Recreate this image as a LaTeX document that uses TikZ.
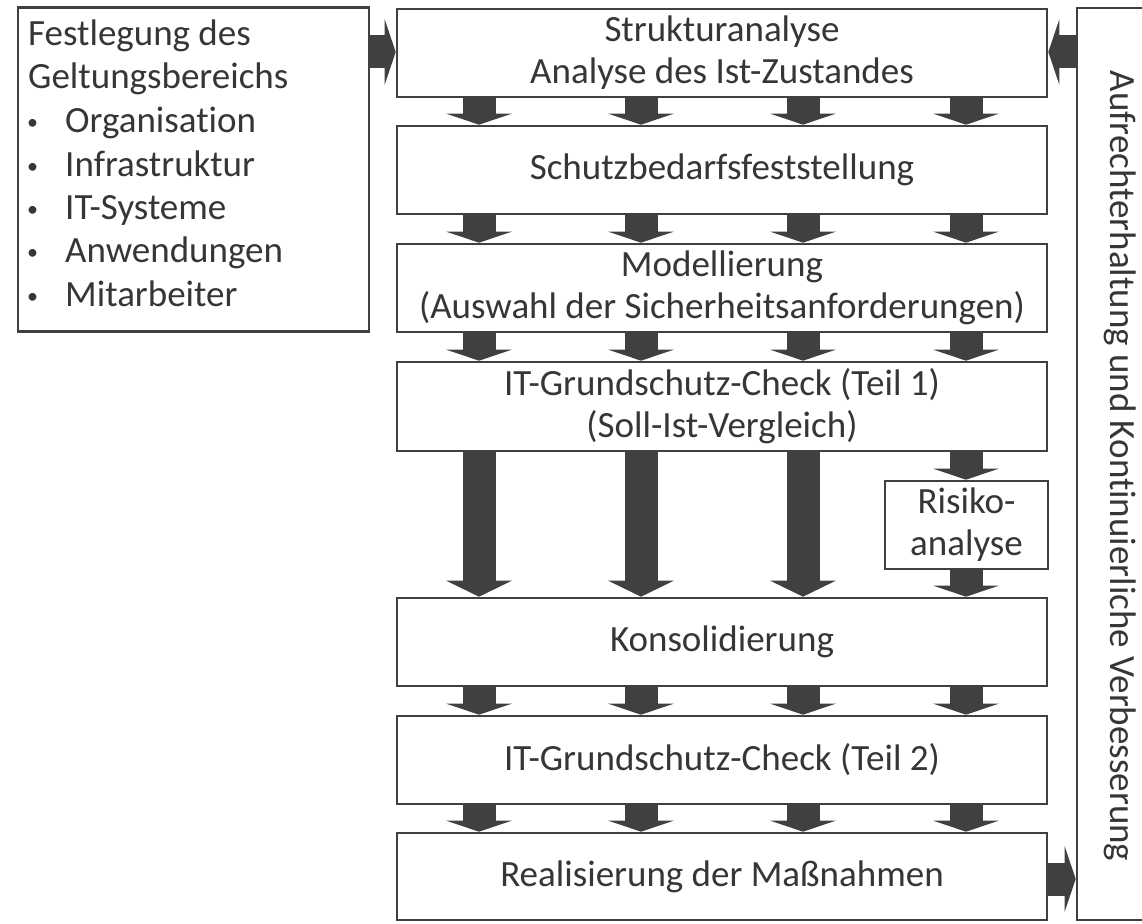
\documentclass[tikz,border=0pt]{standalone}
\usepackage{fontspec}
\setmainfont[Ligatures=NoCommon]{Carlito}
\usetikzlibrary{arrows.meta}
\definecolor{lc}{HTML}{404040}
\definecolor{tc}{HTML}{363636}
\begin{document}
\begin{tikzpicture}[x=1pt,y=-1pt,
  box/.style={draw=lc,line width=2.6pt,fill=white,inner sep=0pt,text=tc,align=center,
    font=\fontsize{37}{42}\selectfont},
  ltxt/.style={anchor=base west,inner sep=0pt,text=tc,font=\fontsize{37}{42}\selectfont},
  bul/.style={anchor=base west,inner sep=0pt,text=tc,font=\fontsize{22}{22}\selectfont},
  fat/.style={draw=lc,line width=33pt,-{Triangle[width=65pt,length=11pt]}},
  fatlong/.style={draw=lc,line width=33pt,-{Triangle[width=65pt,length=16pt]}},
]
\useasboundingbox (0,0) rectangle (1142,923);

% left box
\node[box,minimum width=351pt,minimum height=324pt] (lb) at (193.5,169.5) {};
\node[ltxt] (l1) at (28,46) {Festlegung des};
\node[ltxt] (l2) at (28,89) {Geltungsbereichs};
\foreach \n/\t/\y in {3/Organisation/132,4/Infrastruktur/176,5/IT-Systeme/219,6/Anwendungen/262,7/Mitarbeiter/306}{
  \node[bul] (bul\n) at (27,\y-3) {\textbullet};
  \node[ltxt] (l\n) at (65,\y) {\t};
}

% right box (right edge outside the page)
\node[box,minimum width=100pt,minimum height=912pt] (rb) at (1127,464) {};
\node[anchor=base,rotate=-90,inner sep=0pt,text=tc,font=\fontsize{37}{42}\selectfont] (rt) at (1110,466)
  {Aufrechterhaltung und Kontinuierliche Verbesserung};

% main column
\node[box,minimum width=650pt,minimum height=88pt] (b1) at (722,53) {Strukturanalyse\\Analyse des Ist-Zustandes};
\node[box,minimum width=650pt,minimum height=88pt] (b2) at (722,170) {Schutzbedarfsfeststellung};
\node[box,minimum width=650pt,minimum height=88pt] (b3) at (722,288) {Modellierung\\(Auswahl der Sicherheitsanforderungen)};
\node[box,minimum width=650pt,minimum height=89pt] (b4) at (722,406.5) {IT-Grundschutz-Check (Teil 1)\\(Soll-Ist-Vergleich)};
\node[box,minimum width=163pt,minimum height=88pt] (ra) at (966.5,525) {Risiko-\\analyse};
\node[box,minimum width=650pt,minimum height=88pt] (b5) at (722,642) {Konsolidierung};
\node[box,minimum width=650pt,minimum height=88pt] (b6) at (722,760) {IT-Grundschutz-Check (Teil 2)};
\node[box,minimum width=650pt,minimum height=87pt] (b7) at (722,876.5) {Realisierung der Maßnahmen};

% column positions
\coordinate (c1) at (479,0);
\coordinate (c2) at (641,0);
\coordinate (c3) at (803,0);
\coordinate (c4) at (966,0);

\foreach \a/\b in {b1/b2,b2/b3,b3/b4,b5/b6,b6/b7}{
  \foreach \c in {c1,c2,c3,c4}{
    \draw[fat] (\c |- \a.south) -- (\c |- \b.north);
  }
}
\foreach \c in {c1,c2,c3}{
  \draw[fatlong] (\c |- b4.south) -- (\c |- b5.north);
}
\draw[fat] (c4 |- b4.south) -- (c4 |- ra.north);
\draw[fat] (c4 |- ra.south) -- (c4 |- b5.north);

% horizontal arrows
\coordinate (h1) at (0,52);
\coordinate (h2) at (0,879);
\draw[fat] (lb.east |- h1) -- (b1.west |- h1);
\draw[fat] (rb.west |- h1) -- (b1.east |- h1);
\draw[fat] (b7.east |- h2) -- (rb.west |- h2);
\end{tikzpicture}
\end{document}
